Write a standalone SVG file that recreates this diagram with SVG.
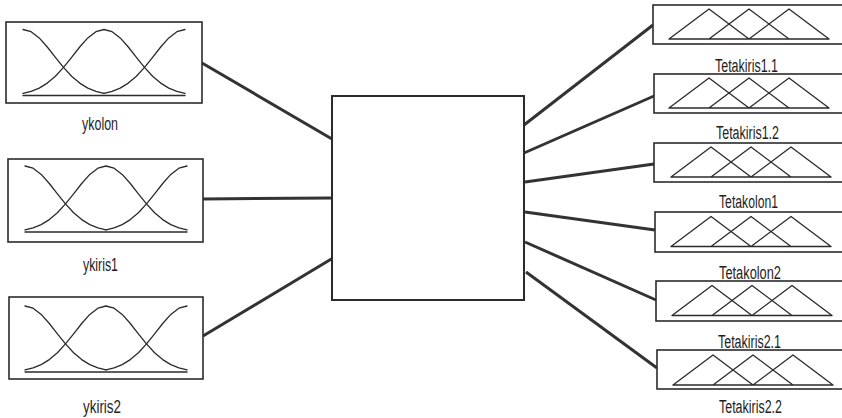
<svg xmlns="http://www.w3.org/2000/svg" xmlns:xlink="http://www.w3.org/1999/xlink" width="842" height="418" viewBox="0 0 842 418">
<style>
.box{fill:#fff;stroke:#2b2b2b;stroke-width:1.6}
.cbox{fill:#fff;stroke:#2b2b2b;stroke-width:2}
.mf{fill:none;stroke:#2b2b2b;stroke-width:1.3;stroke-linejoin:round;stroke-linecap:round}
.conn{stroke:#333;stroke-width:3;stroke-linecap:butt}
.lbl{font-family:"Liberation Sans",Arial,sans-serif;font-size:18px;fill:#1e1e1e}
</style>
<defs>
<g id="gauss">
<polyline class="mf" points="0,0 8.1,2.2 16.2,8.4 24.3,17.5 32.4,27.8 40.5,37.9 48.6,46.7 56.7,53.6 64.8,58.6 72.9,61.8 81,63.8"/>
<polyline class="mf" points="0,63.8 8.1,61.8 16.2,58.6 24.3,53.6 32.4,46.7 40.5,37.9 48.6,27.8 56.7,17.5 64.8,8.4 72.9,2.2 81,0 89.1,2.2 97.2,8.4 105.3,17.5 113.4,27.8 121.5,37.9 129.6,46.7 137.7,53.6 145.8,58.6 153.9,61.8 162,63.8"/>
<polyline class="mf" points="81,63.8 89.1,61.8 97.2,58.6 105.3,53.6 113.4,46.7 121.5,37.9 129.6,27.8 137.7,17.5 145.8,8.4 153.9,2.2 162,0"/>
<path class="mf" d="M0,66 H162"/>
</g>
<g id="tri">
<path class="mf" d="M0,30 L40,0 L80,30 M40,30 L80,0 L120,30 M80,30 L120,0 L160,30 M0,30 H160"/>
</g>
</defs>

<g id="connectors">
<line class="conn" x1="202" y1="63" x2="332" y2="139"/>
<line class="conn" x1="203" y1="199" x2="332" y2="198"/>
<line class="conn" x1="203" y1="336" x2="333" y2="258"/>
<line class="conn" x1="524" y1="125" x2="653" y2="25"/>
<line class="conn" x1="524" y1="153" x2="654" y2="96"/>
<line class="conn" x1="525" y1="182" x2="654" y2="164"/>
<line class="conn" x1="525" y1="212" x2="655" y2="230"/>
<line class="conn" x1="525" y1="242" x2="656" y2="300"/>
<line class="conn" x1="526" y1="272" x2="657" y2="368"/>
</g>

<g id="ykolon">
<rect class="box" x="6" y="22" width="196" height="81"/>
<use xlink:href="#gauss" transform="translate(23,29.5)"/>
<text class="lbl" x="82" y="130" textLength="36" lengthAdjust="spacingAndGlyphs">ykolon</text>
</g>
<g id="ykiris1">
<rect class="box" x="8" y="159" width="195" height="83"/>
<use xlink:href="#gauss" transform="translate(25,166)"/>
<text class="lbl" x="83" y="271" textLength="35" lengthAdjust="spacingAndGlyphs">ykiris1</text>
</g>
<g id="ykiris2">
<rect class="box" x="9" y="297" width="194" height="82"/>
<use xlink:href="#gauss" transform="translate(25,306)"/>
<text class="lbl" x="83" y="413" textLength="38" lengthAdjust="spacingAndGlyphs">ykiris2</text>
</g>

<g id="center">
<rect class="cbox" x="332" y="96" width="192" height="204"/>
</g>

<g id="Tetakiris1.1">
<rect class="box" x="653" y="5" width="220" height="39"/>
<use xlink:href="#tri" transform="translate(669,9)"/>
<text class="lbl" x="715" y="71.5" textLength="63" lengthAdjust="spacingAndGlyphs">Tetakiris1.1</text>
</g>
<g id="Tetakiris1.2">
<rect class="box" x="654" y="74" width="220" height="39"/>
<use xlink:href="#tri" transform="translate(669,78)"/>
<text class="lbl" x="716" y="139" textLength="63" lengthAdjust="spacingAndGlyphs">Tetakiris1.2</text>
</g>
<g id="Tetakolon1">
<rect class="box" x="654" y="143" width="220" height="39"/>
<use xlink:href="#tri" transform="translate(671,147)"/>
<text class="lbl" x="719" y="208" textLength="59" lengthAdjust="spacingAndGlyphs">Tetakolon1</text>
</g>
<g id="Tetakolon2">
<rect class="box" x="655" y="212" width="220" height="40"/>
<use xlink:href="#tri" transform="translate(671,216.5)"/>
<text class="lbl" x="719" y="279" textLength="62" lengthAdjust="spacingAndGlyphs">Tetakolon2</text>
</g>
<g id="Tetakiris2.1">
<rect class="box" x="656" y="281" width="220" height="40"/>
<use xlink:href="#tri" transform="translate(672,285.5)"/>
<text class="lbl" x="718" y="348" textLength="63" lengthAdjust="spacingAndGlyphs">Tetakiris2.1</text>
</g>
<g id="Tetakiris2.2">
<rect class="box" x="657" y="350" width="220" height="39"/>
<use xlink:href="#tri" transform="translate(673,355)"/>
<text class="lbl" x="719" y="413" textLength="63" lengthAdjust="spacingAndGlyphs">Tetakiris2.2</text>
</g>
</svg>
